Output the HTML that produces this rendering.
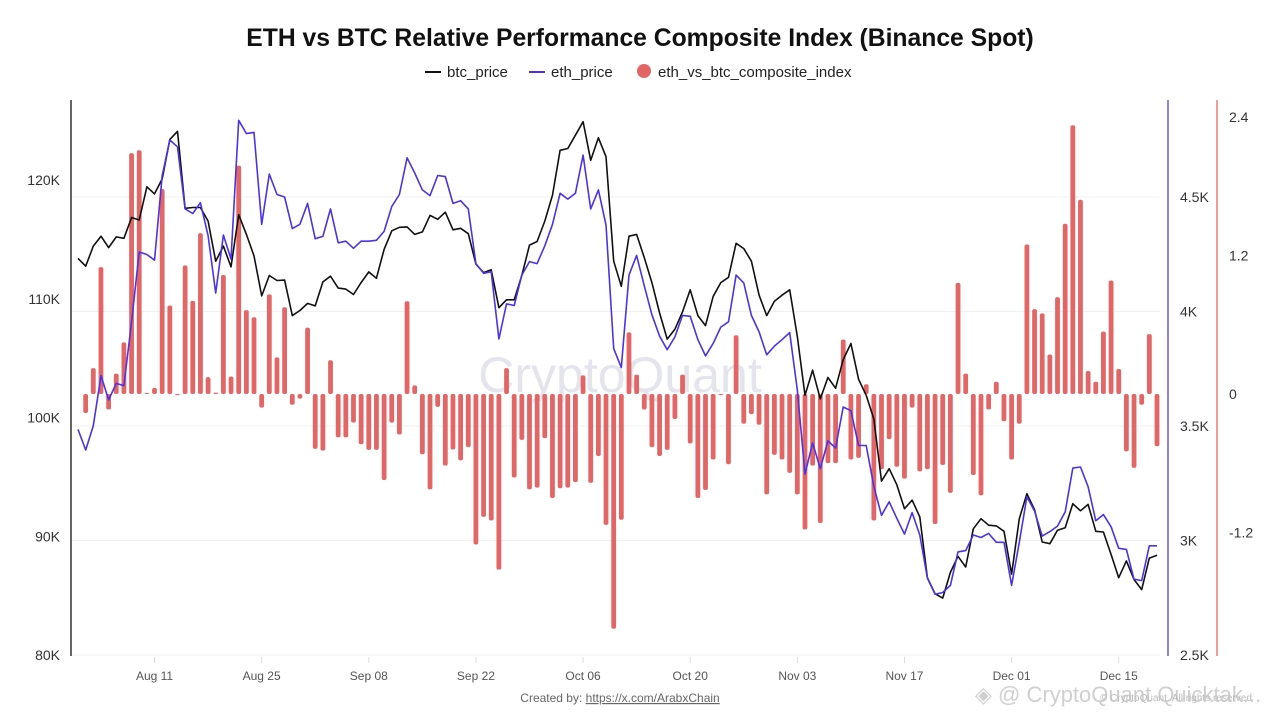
<!DOCTYPE html>
<html><head><meta charset="utf-8"><title>ETH vs BTC Composite</title>
<style>
html,body{margin:0;padding:0;background:#fff;}
body{width:1280px;height:720px;overflow:hidden;font-family:"Liberation Sans",sans-serif;}
svg text{font-family:"Liberation Sans",sans-serif;}
</style></head>
<body>
<svg id="chart" width="1280" height="720" viewBox="0 0 1280 720" xmlns="http://www.w3.org/2000/svg">
<text x="640" y="46" text-anchor="middle" font-size="24.7" font-weight="bold" fill="#111">ETH vs BTC Relative Performance Composite Index (Binance Spot)</text>
<g font-size="15" fill="#222">
<g><line x1="425" y1="72" x2="441" y2="72" stroke="#111" stroke-width="2"/><text x="447" y="77">btc_price</text></g>
<g><line x1="529" y1="72" x2="545" y2="72" stroke="#4b33e6" stroke-width="2"/><text x="551" y="77">eth_price</text></g>
<g><circle cx="644" cy="71" r="7" fill="#e36666"/><text x="658" y="77">eth_vs_btc_composite_index</text></g>
</g>
<text x="620" y="392" text-anchor="middle" font-size="50" fill="#e4e4ec">CryptoQuant</text>
<g id="grid"></g>
<g id="bars"></g>
<g id="lines"></g>
<g id="axes"></g>
<text x="620" y="702" text-anchor="middle" font-size="12" fill="#666">Created by: <tspan text-decoration="underline">https://x.com/ArabxChain</tspan></text>
<text x="975" y="702" font-size="22" fill="#cfcfcf">◈ @ CryptoQuant Quicktak...</text>
<text x="1100" y="701" font-size="10" fill="#bbb">© CryptoQuant. All rights reserved</text>
</svg>
<script>
const btcPrices=[113.40,112.74,114.43,115.27,114.31,115.21,115.09,116.84,116.63,119.43,118.83,120.09,123.40,124.10,117.62,117.68,117.68,116.54,113.16,114.43,112.68,117.08,115.42,113.61,110.24,111.96,111.54,111.57,108.58,109.01,
109.61,109.40,111.42,111.90,110.90,110.81,110.36,111.36,112.26,111.72,114.16,115.72,116.02,116.05,115.42,115.63,117.02,116.69,117.29,115.81,115.93,115.48,112.92,112.20,112.44,109.25,109.91,109.91,
111.96,114.52,114.82,116.54,118.73,122.50,122.65,123.77,124.91,121.66,123.55,121.96,113.16,111.05,115.27,115.42,113.46,111.36,108.80,106.60,107.44,108.89,110.75,108.58,107.74,110.21,111.36,111.81,114.67,
114.22,113.16,110.30,108.58,109.79,110.30,110.75,106.84,101.87,103.98,101.57,103.37,102.47,104.88,106.23,103.22,101.87,99.85,94.64,95.69,94.34,92.32,93.04,91.63,86.51,85.15,84.79,86.96,88.31,
87.41,90.63,91.48,90.93,90.87,90.42,86.81,91.48,93.58,92.23,89.52,89.37,90.51,90.72,92.74,92.14,92.68,90.42,90.36,88.46,86.51,87.92,86.36,85.51,88.16,88.40];
const ethPrices=[3.485,3.395,3.501,3.720,3.614,3.686,3.676,3.955,4.260,4.249,4.224,4.594,4.749,4.719,4.448,4.428,4.475,4.331,4.081,4.334,4.229,4.835,4.777,4.782,4.381,4.600,4.511,4.500,4.362,4.381,
4.472,4.318,4.328,4.448,4.300,4.307,4.276,4.307,4.307,4.311,4.350,4.459,4.511,4.671,4.605,4.531,4.506,4.594,4.589,4.472,4.484,4.448,4.209,4.167,4.174,3.880,4.033,4.026,
4.159,4.218,4.209,4.287,4.381,4.516,4.491,4.516,4.683,4.448,4.531,4.378,3.838,3.755,4.159,4.245,4.112,3.986,3.892,3.833,3.889,3.983,3.979,3.877,3.806,3.861,3.932,3.955,4.159,
4.124,3.983,3.911,3.811,3.849,3.877,3.908,3.658,3.290,3.426,3.314,3.435,3.404,3.583,3.567,3.415,3.415,3.235,3.110,3.169,3.097,3.028,3.122,3.024,2.836,2.765,2.773,2.804,2.950,
2.956,3.024,3.013,3.031,2.992,2.992,2.804,2.992,3.191,3.128,3.019,3.039,3.063,3.125,3.316,3.321,3.235,3.086,3.113,3.060,2.966,2.961,2.831,2.825,2.977,2.977];
const compositeIndex=[null,-0.165,0.224,1.099,-0.134,0.177,0.447,2.087,2.112,0.01,0.053,1.776,0.767,-0.01,1.115,0.807,1.394,0.146,0.012,1.031,0.152,1.979,0.727,0.665,-0.118,0.863,0.317,0.752,-0.093,-0.04,
0.575,-0.475,-0.491,0.292,-0.376,-0.376,-0.248,-0.435,-0.484,-0.484,-0.745,-0.248,-0.351,0.804,0.075,-0.522,-0.826,-0.112,-0.621,-0.481,-0.575,-0.460,-1.304,-1.065,-1.096,-1.522,0.224,-0.724,
-0.398,-0.826,-0.811,-0.382,-0.901,-0.817,-0.811,-0.764,0.161,-0.770,-0.537,-1.134,-2.034,-1.090,0.534,0.168,-0.134,-0.460,-0.537,-0.484,-0.217,0.168,-0.429,-0.901,-0.832,-0.568,-0.01,-0.609,0.509,
-0.258,-0.174,-0.267,-0.870,-0.528,-0.568,-0.683,-0.870,-1.174,-0.621,-1.118,-0.599,-0.599,0.472,-0.568,-0.553,0.084,-1.096,-0.652,-0.391,-0.630,-0.733,-0.118,-0.671,-0.652,-1.127,-0.615,-0.857,0.963,
0.177,-0.702,-0.879,-0.134,0.106,-0.236,-0.568,-0.258,1.295,0.736,0.699,0.342,0.839,1.475,2.329,1.683,0.199,0.106,0.540,0.984,0.217,-0.497,-0.640,-0.093,0.519,-0.453];
const dateLabels=["Aug 11","Aug 25","Sep 08","Sep 22","Oct 06","Oct 20","Nov 03","Nov 17","Dec 01","Dec 15"];
const dateLabelIndex=[10,24,38,52,66,80,94,108,122,136];
const btcTicks=[80,90,100,110,120];
const ethTicks=[2.5,3,3.5,4,4.5];
const compTicks=[-1.2,0,1.2,2.4];

const NS="http://www.w3.org/2000/svg";
const X0=78,X1=1157,N=btcPrices.length;
function xs(i){return X0+(X1-X0)*i/(N-1);}
function yBtc(v){return 655-(v-80)*11.875;}
function yEth(v){return 655-(v-2.5)*229;}
function yComp(v){return 394-v*115.4;}
function mk(tag,attrs,parent){const e=document.createElementNS(NS,tag);for(const k in attrs)e.setAttribute(k,attrs[k]);parent.appendChild(e);return e;}
const grid=document.getElementById('grid'),bars=document.getElementById('bars'),lines=document.getElementById('lines'),axes=document.getElementById('axes');

ethTicks.forEach(t=>{const g=mk('line',{x1:72,x2:1160,y1:yEth(t),y2:yEth(t),stroke:'#f0f0f0','stroke-width':1},grid);

});

compositeIndex.forEach((v,i)=>{if(v===null)return;
const y=yComp(v),y0=yComp(0);
const r=mk('rect',{x:xs(i)-2.4,y:Math.min(y,y0),width:4.8,height:Math.max(Math.abs(y-y0),1),rx:2,fill:'#e36666'},bars);

});

function path(arr,fy){return arr.map((v,i)=>(i?'L':'M')+xs(i).toFixed(1)+' '+fy(v).toFixed(1)).join(' ');}
const lb=mk('path',{d:path(btcPrices,yBtc),fill:'none',stroke:'#111','stroke-width':1.6,'stroke-linejoin':'round'},lines);


const le=mk('path',{d:path(ethPrices,yEth),fill:'none',stroke:'#4b33e6','stroke-width':1.6,'stroke-linejoin':'round'},lines);



const al=mk('line',{x1:71,x2:71,y1:100,y2:656,stroke:'#333','stroke-width':1.5},axes);


btcTicks.forEach(t=>{const tx=mk('text',{x:60,y:yBtc(t)+5,'text-anchor':'end','font-size':14,fill:'#333'},axes);tx.textContent=t+'K';

});
const ae=mk('line',{x1:1168,x2:1168,y1:100,y2:656,stroke:'#6a55ee','stroke-width':1.5},axes);


ethTicks.forEach(t=>{const tx=mk('text',{x:1180,y:yEth(t)+5,'font-size':14,fill:'#333'},axes);tx.textContent=t+'K';

});
const ac=mk('line',{x1:1217,x2:1217,y1:100,y2:656,stroke:'#ee7a7a','stroke-width':1.5},axes);


compTicks.forEach(t=>{const tx=mk('text',{x:1229,y:yComp(t)+5,'font-size':14,fill:'#333'},axes);tx.textContent=String(t);

});
dateLabels.forEach((d,k)=>{const x=xs(dateLabelIndex[k]);
const tk=mk('line',{x1:x,x2:x,y1:657,y2:663,stroke:'#ddd','stroke-width':1},axes);


const tx=mk('text',{x:x,y:680,'text-anchor':'middle','font-size':12,fill:'#555'},axes);tx.textContent=d;

});
</script>
</body></html>
